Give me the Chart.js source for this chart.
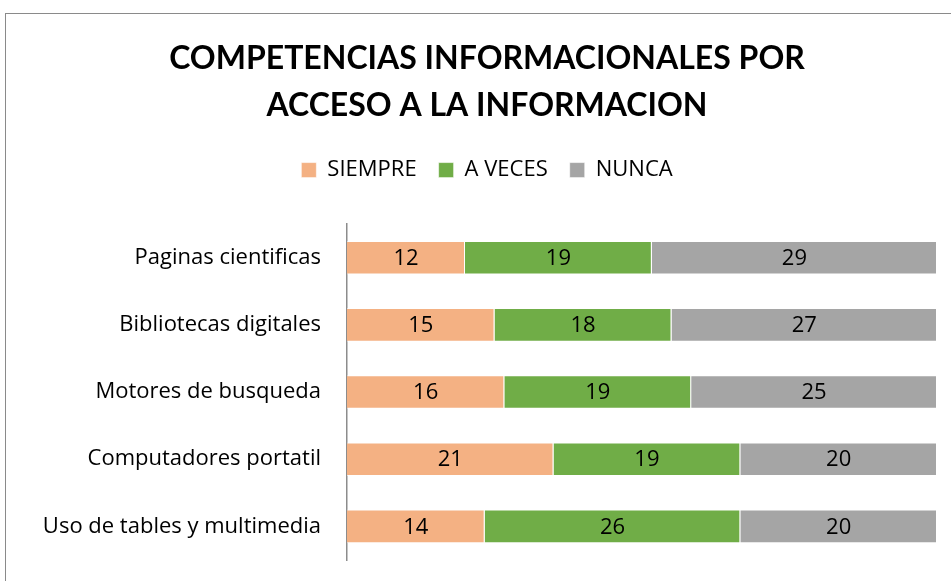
<!DOCTYPE html>
<html>
<head>
<meta charset="utf-8">
<script src="https://cdn.jsdelivr.net/npm/chart.js@4"></script>
<style>
  html, body { margin: 0; padding: 0; background: #fff; overflow: hidden; }
  #wrap { position: relative; width: 951px; height: 581px; }
  #frame { position: absolute; left: 5px; top: 13px; width: 1000px; height: 700px; border: 1px solid #8a8a8a; box-sizing: border-box; }
  canvas { position: absolute; left: 0; top: 0; }
</style>
</head>
<body>
<div id="wrap">
  <div id="frame"></div>
  <canvas id="c" width="951" height="581"></canvas>
</div>
<script>
const titleLines = ["COMPETENCIAS INFORMACIONALES POR", "ACCESO A LA INFORMACION"];
const categories = ["Paginas cientificas", "Bibliotecas digitales", "Motores de busqueda", "Computadores portatil", "Uso de tables y multimedia"];
const seriesNames = ["SIEMPRE", "A VECES", "NUNCA"];
const siempre = [12, 15, 16, 21, 14];
const aVeces = [19, 18, 19, 19, 26];
const nunca = [29, 27, 25, 20, 20];
const colors = ["#F4B183", "#70AD47", "#A5A5A5"];

const FONT = "'Open Sans', Lato, sans-serif";
const TITLE_FONT = "Lato, 'Open Sans', sans-serif";

const legendMargin = {
  id: 'legendMargin',
  beforeInit(chart) {
    const origFit = chart.legend.fit;
    chart.legend.fit = function () {
      origFit.bind(chart.legend)();
      this.height += 33;
    };
  }
};

const dataLabels = {
  id: 'dataLabels',
  afterDatasetsDraw(chart) {
    const ctx = chart.ctx;
    ctx.save();
    ctx.font = "22px " + FONT;
    ctx.fillStyle = "#000";
    ctx.textAlign = "center";
    ctx.textBaseline = "middle";
    chart.data.datasets.forEach((ds, di) => {
      const meta = chart.getDatasetMeta(di);
      meta.data.forEach((bar, i) => {
        const p = bar.getProps(['x', 'y', 'base'], true);
        const cx = (p.x + p.base) / 2;
        ctx.fillText(String(ds.data[i]), cx, p.y + 1);
      });
    });
    ctx.restore();
  }
};

new Chart(document.getElementById('c'), {
  type: 'bar',
  data: {
    labels: categories,
    datasets: [
      { label: seriesNames[0], data: siempre, backgroundColor: colors[0] },
      { label: seriesNames[1], data: aVeces, backgroundColor: colors[1] },
      { label: seriesNames[2], data: nunca, backgroundColor: colors[2] }
    ].map(d => Object.assign(d, { borderColor: 'rgba(255,255,255,0.55)', borderWidth: 1, categoryPercentage: 0.5, barPercentage: 1 }))
  },
  options: {
    indexAxis: 'y',
    responsive: false,
    animation: false,
    devicePixelRatio: 1,
    layout: { padding: { left: 37, right: 14, top: 0, bottom: 21 } },
    scales: {
      x: {
        stacked: true, min: 0, max: 60,
        display: false,
        grid: { display: false }
      },
      y: {
        stacked: true,
        grid: { display: false, drawTicks: true, tickLength: 26 },
        border: { display: true, color: '#8c8c8c', width: 1.5 },
        ticks: { color: '#000', font: { family: FONT, size: 22 }, padding: 0 },
        afterFit(scale) { scale.width = 310; }
      }
    },
    plugins: {
      title: {
        display: true,
        text: titleLines,
        color: '#000',
        font: { family: TITLE_FONT, size: 32, weight: 'bold', lineHeight: 1.47 },
        padding: { top: 35, bottom: 8 }
      },
      legend: {
        display: true,
        position: 'top',
        labels: {
          color: '#000',
          font: { family: FONT, size: 22 },
          boxWidth: 15, boxHeight: 15,
          padding: 22
        }
      },
      tooltip: { enabled: false }
    }
  },
  plugins: [legendMargin, dataLabels]
});
</script>
</body>
</html>
